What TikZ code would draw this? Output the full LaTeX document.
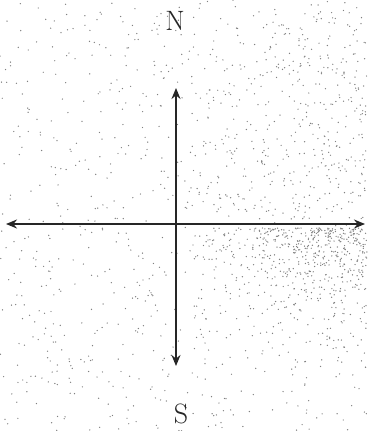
\documentclass[tikz,border=0pt]{standalone}
\usetikzlibrary{arrows.meta}
\begin{document}
\begin{tikzpicture}[x=1pt,y=-1pt,
  axis/.style={line width=2.4pt,draw=black!85,-{Stealth[length=11pt,width=9pt]}},
  lbl/.style={font=\fontsize{28}{28}\selectfont,text=black!85,inner sep=0pt},
  dot/.style={fill=black!50}]
\useasboundingbox (0,0) rectangle (367,431);
\fill[white] (0,0) rectangle (367,431);
% stipple texture
\pgfmathsetseed{7}
\foreach \i in {1,...,800}{
  \pgfmathsetmacro{\px}{rnd*367}
  \pgfmathsetmacro{\py}{rnd*431}
  \fill[dot] (\px,\py) circle (0.7pt);
}
\pgfmathsetseed{11}
\foreach \i in {1,...,550}{
  \pgfmathsetmacro{\px}{180+187*sqrt(rnd)}
  \pgfmathsetmacro{\py}{228+150*rnd*rnd}
  \fill[dot] (\px,\py) circle (0.7pt);
}
\pgfmathsetseed{23}
\foreach \i in {1,...,300}{
  \pgfmathsetmacro{\px}{190+177*sqrt(rnd)}
  \pgfmathsetmacro{\py}{10+210*rnd}
  \fill[dot] (\px,\py) circle (0.7pt);
}
\coordinate (o) at (176,224);
\coordinate (n) at (176,88);
\coordinate (s) at (176,366);
\coordinate (w) at (6,224);
\coordinate (e) at (365,224);
\draw[axis] (o) -- (n);
\draw[axis] (o) -- (s);
\draw[axis] (o) -- (w);
\draw[axis] (o) -- (e);
\node[lbl] (N) at (175,21) {N};
\node[lbl] (S) at (181,414) {S};
\end{tikzpicture}
\end{document}
